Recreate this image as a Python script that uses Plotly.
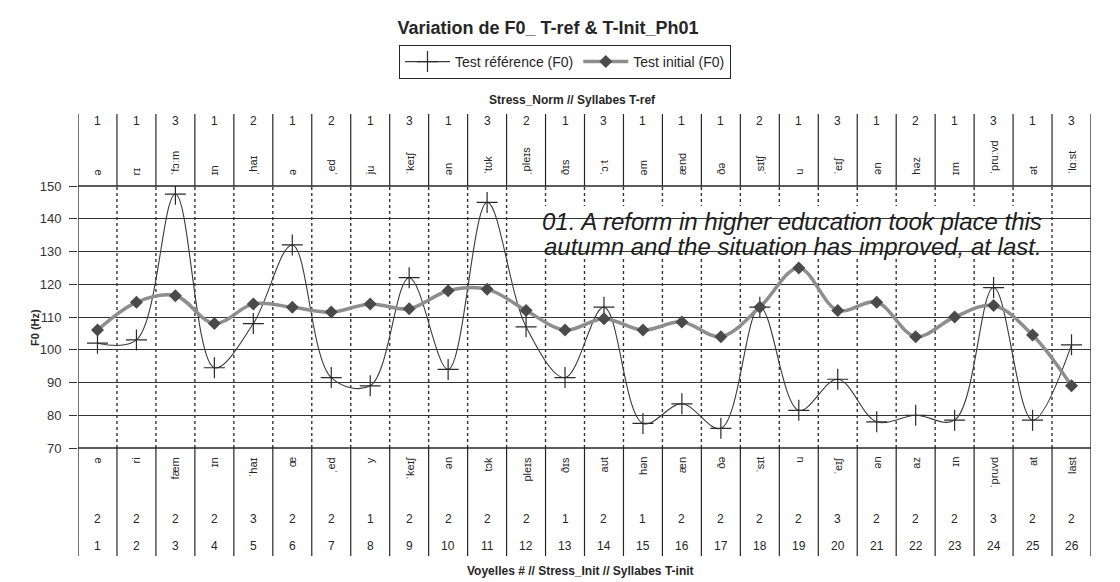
import plotly.graph_objects as go

# ---------------- data ----------------
vowel_num = list(range(1, 27))
ref_f0 = [102, 103, 147.5, 94.5, 108, 132, 91.5, 89, 122, 94, 145, 107, 91.5,
          113, 77.5, 83.5, 76, 113, 81.5, 91, 78, 80, 78.5, 119, 78.5, 101.5]
init_f0 = [106, 114.5, 116.5, 108, 114, 113, 111.5, 114, 112.5, 118, 118.5, 112, 106,
           109.5, 106, 108.5, 104, 113, 125, 112, 114.5, 104, 110, 113.5, 104.5, 89]
stress_norm = [1, 1, 3, 1, 2, 1, 2, 1, 3, 1, 3, 2, 1, 3, 1, 1, 1, 2, 1, 3, 1, 2, 1, 3, 1, 3]
syll_ref = ["ə", "rɪ", "ˈfɔːm", "ɪn", "ˌhaɪ", "ə", "ˌed", "ju", "ˈkeɪʃ", "ən", "ˈtʊk", "ˌpleɪs",
            "ðɪs", "ˈɔːt", "əm", "ænd", "ðə", "ˌsɪtʃ", "u", "ˈeɪʃ", "ən", "həz", "ɪm",
            "ˈpruːvd", "ət", "ˈlɑːst"]
stress_init = [2, 2, 2, 2, 3, 2, 2, 1, 2, 2, 2, 2, 1, 2, 1, 2, 2, 2, 2, 3, 2, 2, 2, 3, 2, 2]
syll_init = ["ə", "ri", "fæm", "ɪn", "ˈhaɪ", "œ", "ˌed", "y", "ˈkeɪʃ", "ən", "tɔk", "pleɪs",
             "ðɪs", "aʊt", "hən", "æn", "ðə", "ˈsɪt", "u", "ˈeɪʃ", "ən", "az", "ɪn",
             "ˈpruvd", "at", "last"]
y_ticks = [70, 80, 90, 100, 110, 120, 130, 140, 150]
sentence = ["01. A reform in higher education took place this",
            "autumn and the situation has improved, at last."]

# ---------------- layout helpers ----------------
# the page body keeps its default 8px margin, so the figure is offset by 8px
OFF = 8
W, H = 1120 - OFF, 582 - OFF
PLOT_L, PLOT_R, PLOT_T, PLOT_B = 78, 1091, 186, 448     # target picture pixels
L, R = PLOT_L - OFF, W - (PLOT_R - OFF)
T, B = PLOT_T - OFF, H - (PLOT_B - OFF)
PH = PLOT_B - PLOT_T
PW = PLOT_R - PLOT_L


def py(pix):
    return (PLOT_B - pix) / PH


def px(pix):
    return (pix - PLOT_L) / PW


FONT = "Liberation Sans, Arial, DejaVu Sans, sans-serif"
INK = "#262626"

fig = go.Figure()
fig.add_trace(go.Scatter(
    x=vowel_num, y=ref_f0, name="Test référence (F0)", mode="lines+markers",
    line=dict(color="#3a3a3a", width=1.1, shape="spline", smoothing=1.0),
    marker=dict(symbol="cross-thin", size=15, line=dict(color="#2a2a2a", width=1.2)),
))
fig.add_trace(go.Scatter(
    x=vowel_num, y=init_f0, name="Test initial (F0)", mode="lines+markers",
    line=dict(color="#8e8e8e", width=3.5, shape="spline", smoothing=1.0),
    marker=dict(symbol="diamond", size=10, color="#4a4a4a"),
))

shapes = []
lo, hi = vowel_num[0] - 0.5, vowel_num[-1] + 0.5
top_tab, bot_tab = py(114), py(556)
# dotted category boundaries in the plot, solid lines in the tables
for k in vowel_num[:-1]:
    xb = k + 0.5
    shapes.append(dict(type="line", xref="x", yref="paper", x0=xb, x1=xb, y0=0, y1=1,
                       line=dict(color="#333", width=1.4, dash="dot"), layer="below"))
    shapes.append(dict(type="line", xref="x", yref="paper", x0=xb, x1=xb, y0=1, y1=top_tab,
                       line=dict(color=INK, width=1.2)))
    shapes.append(dict(type="line", xref="x", yref="paper", x0=xb, x1=xb, y0=0, y1=bot_tab,
                       line=dict(color=INK, width=1.2)))
# white panel behind the sentence (hides grid lines there)
shapes.append(dict(type="rect", xref="paper", yref="paper", x0=px(533), x1=px(1051),
                   y0=py(259), y1=py(206), fillcolor="white", line=dict(width=0), layer="below"))
for xb in (lo, hi):
    shapes.append(dict(type="line", xref="x", yref="paper", x0=xb, x1=xb, y0=bot_tab, y1=top_tab,
                       line=dict(color=INK, width=1.3)))
for yb in (0, 1):
    shapes.append(dict(type="line", xref="x", yref="paper", x0=lo, x1=hi, y0=yb, y1=yb,
                       line=dict(color=INK, width=1.3)))

ann = []
for i, (s, syl) in enumerate(zip(stress_norm, syll_ref)):
    xv = vowel_num[i]
    ann.append(dict(x=xv, xref="x", y=py(121), yref="paper", text=str(s), showarrow=False,
                    font=dict(size=12, color=INK, family=FONT), yanchor="middle"))
    ann.append(dict(x=xv, xref="x", y=py(177), yref="paper", text=syl, showarrow=False,
                    textangle=-90, font=dict(size=11, color=INK, family=FONT), yanchor="bottom"))
for i, (s, syl) in enumerate(zip(stress_init, syll_init)):
    xv = vowel_num[i]
    ann.append(dict(x=xv, xref="x", y=py(455), yref="paper", text=syl, showarrow=False,
                    textangle=-90, font=dict(size=11, color=INK, family=FONT), yanchor="top"))
    ann.append(dict(x=xv, xref="x", y=py(519), yref="paper", text=str(s), showarrow=False,
                    font=dict(size=12, color=INK, family=FONT), yanchor="middle"))
    ann.append(dict(x=xv, xref="x", y=py(546), yref="paper", text=str(xv), showarrow=False,
                    font=dict(size=12, color=INK, family=FONT), yanchor="middle"))

ann.append(dict(x=px(572), y=py(100), xref="paper", yref="paper", showarrow=False, yanchor="middle",
                text="<b>Stress_Norm // Syllabes T-ref</b>", font=dict(size=12, color=INK, family=FONT)))
ann.append(dict(x=px(580), y=py(571), xref="paper", yref="paper", showarrow=False, yanchor="middle",
                text="<b>Voyelles # // Stress_Init // Syllabes T-init</b>",
                font=dict(size=12, color=INK, family=FONT)))
ann.append(dict(x=px(27), y=py(328), xref="paper", yref="paper", showarrow=False, textangle=-90,
                yanchor="middle", text="<b>F0 (Hz)</b>", font=dict(size=11, color=INK, family=FONT)))
for line_txt, yc in zip(sentence, (221, 246)):
    ann.append(dict(x=px(1044), y=py(yc), xref="paper", yref="paper", showarrow=False,
                    xanchor="right", yanchor="middle", align="right",
                    text="<i>" + line_txt + "</i>",
                    font=dict(size=24, color="#1e1e1e", family=FONT)))

fig.update_layout(
    width=W, height=H,
    margin=dict(l=L, r=R, t=T, b=B),
    paper_bgcolor="white", plot_bgcolor="white",
    font=dict(family=FONT, color=INK),
    title=dict(text="<b>Variation de F0_ T-ref & T-Init_Ph01</b>", x=(548 - OFF) / W,
               xanchor="center", y=1 - (28 - OFF) / H, yanchor="middle",
               font=dict(size=18, color=INK, family=FONT)),
    showlegend=True,
    legend=dict(orientation="h", x=px(565), xanchor="center", y=py(62), yanchor="middle",
                bordercolor=INK, borderwidth=1, bgcolor="white", itemwidth=45,
                font=dict(size=14, color=INK, family=FONT), itemclick=False),
    xaxis=dict(range=[lo, hi], showticklabels=False, showgrid=False, zeroline=False,
               ticks="", showline=False, fixedrange=True),
    yaxis=dict(range=[y_ticks[0], y_ticks[-1]], tickvals=y_ticks, showgrid=True,
               gridcolor="#333", gridwidth=1, zeroline=False, ticks="outside", ticklen=8,
               ticklabelstandoff=5,
               tickcolor="#333", tickfont=dict(size=13, color="#333", family=FONT),
               showline=False, fixedrange=True),
    shapes=shapes,
    annotations=ann,
)

fig.write_html("out.html")
